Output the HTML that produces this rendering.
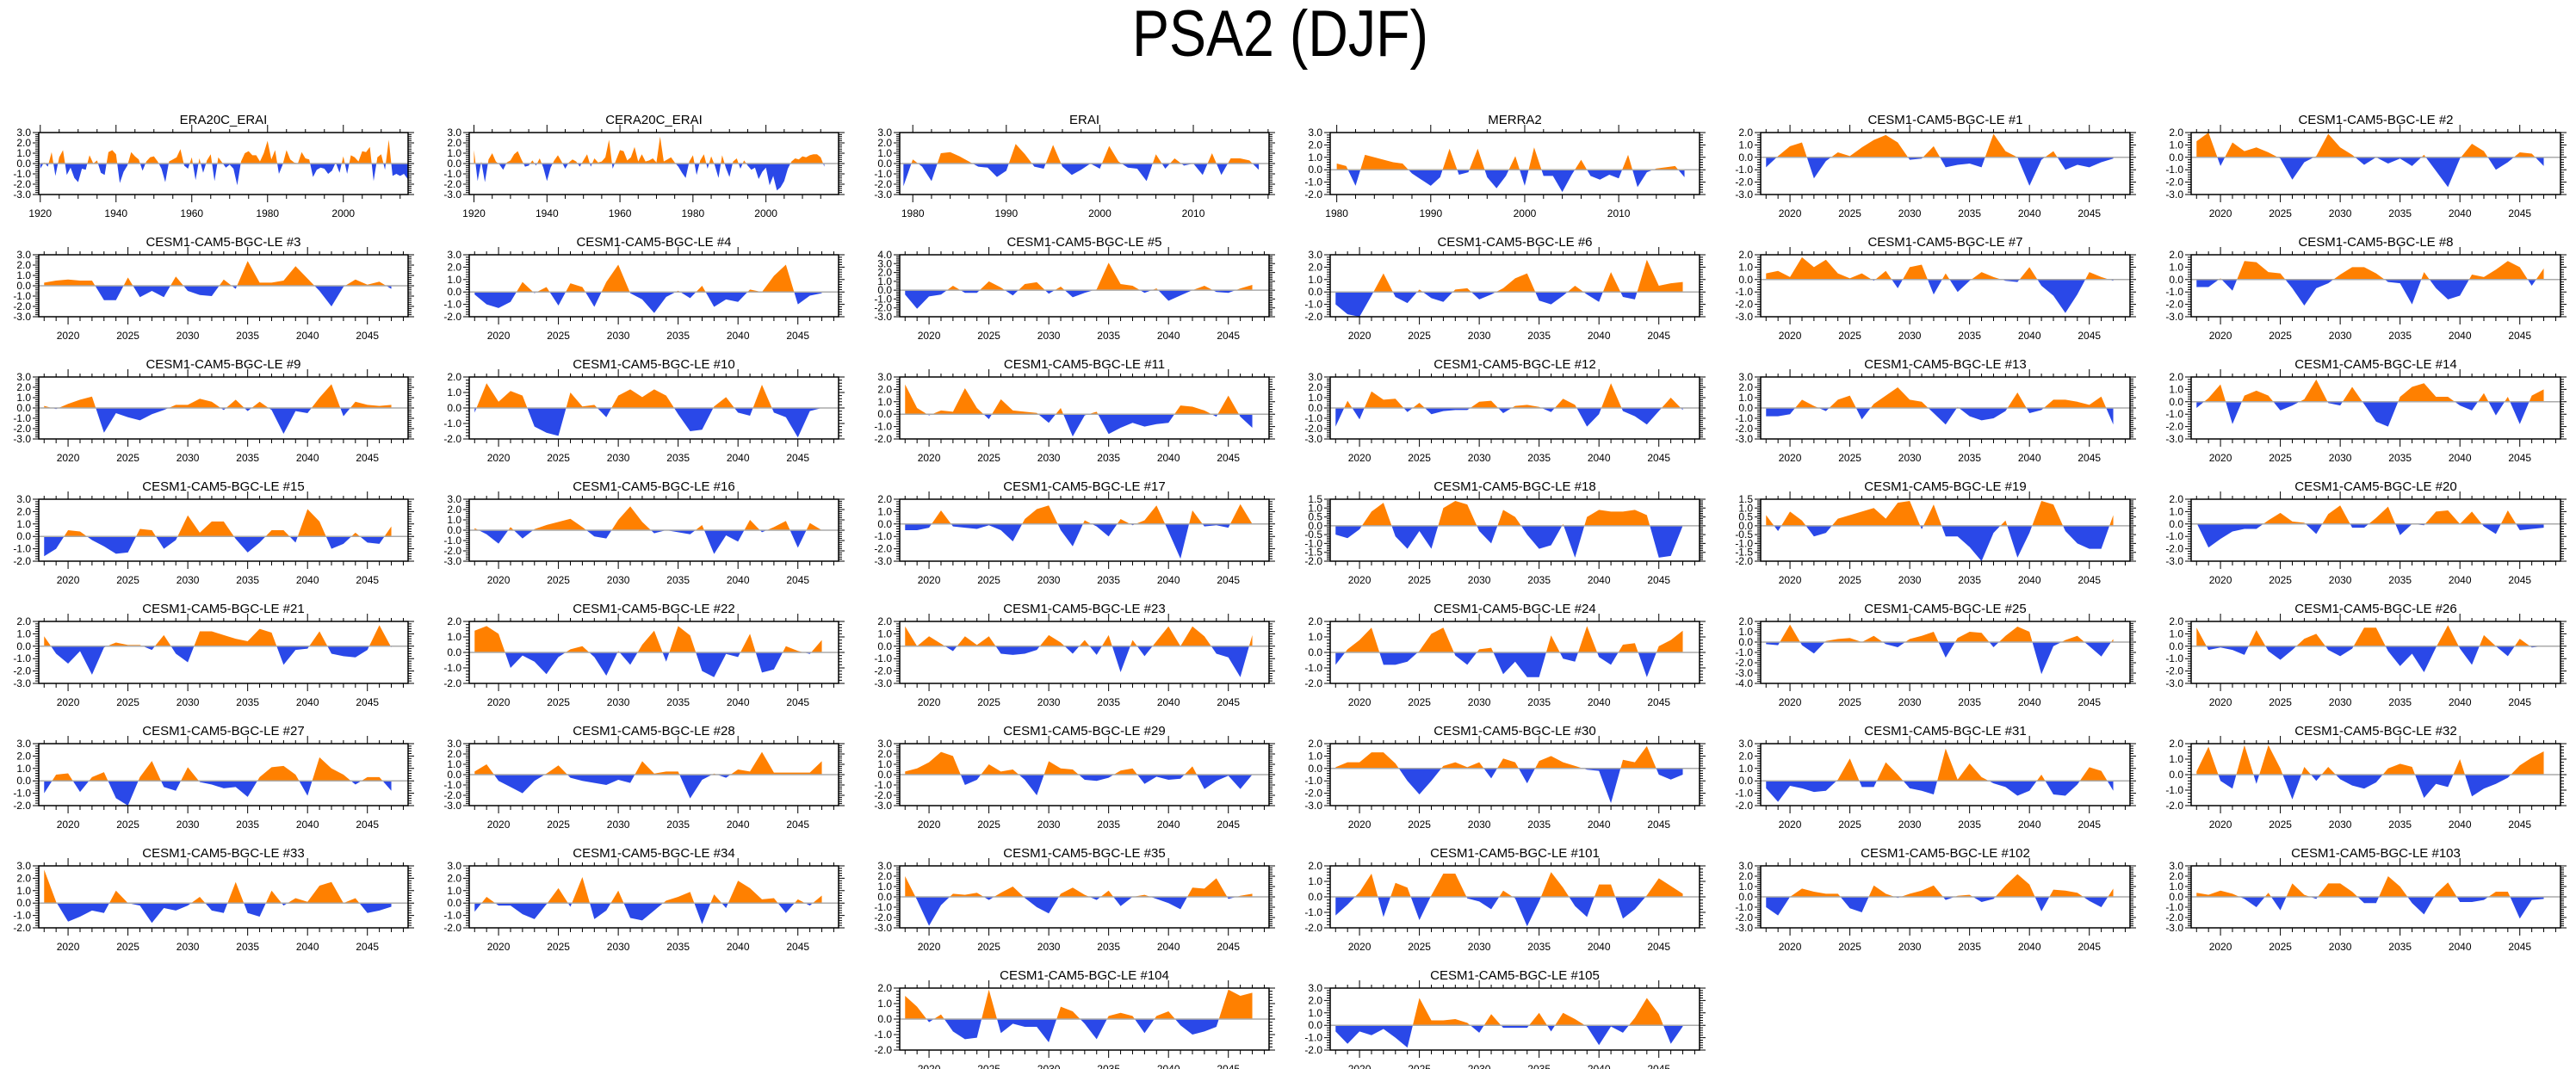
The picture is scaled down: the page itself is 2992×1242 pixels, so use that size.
<!DOCTYPE html>
<html><head><meta charset="utf-8"><title>PSA2 (DJF)</title>
<style>html,body{margin:0;padding:0;background:#fff;}svg{display:block;font-family:"Liberation Sans",Arial,sans-serif;}</style>
</head><body>
<svg id="chart" width="2992" height="1242" viewBox="0 0 2992 1242" xmlns="http://www.w3.org/2000/svg">
<rect x="0" y="0" width="2992" height="1242" fill="#fff"/>
<text x="1487" y="65" text-anchor="middle" font-size="76" textLength="344" lengthAdjust="spacingAndGlyphs" fill="#000">PSA2 (DJF)</text>
<g id="panels"></g>
</svg>
<script>
const v_era20c = [-0.5,0.1,-0.3,1.1,-1.2,0.6,1.3,-1.1,-0.4,-1.4,-1.8,-0.5,-0.6,0.8,0.0,0.3,-0.9,-1.1,1.1,1.3,0.9,-1.9,-0.8,-0.2,1.1,0.7,0.4,-0.7,0.2,0.6,0.7,0.2,-0.5,-1.8,0.2,0.4,0.6,1.4,-0.2,-0.5,0.6,-1.6,0.5,-0.9,0.3,0.9,-1.7,0.6,0.1,-0.4,-0.1,-0.5,-2.1,0.2,1.0,1.2,0.8,0.8,0.2,1.0,2.2,0.4,1.3,-1.0,-0.1,1.3,0.4,0.1,0.0,1.1,0.5,0.4,-1.3,-0.6,-0.4,-0.5,-1.0,-0.7,0.1,-0.9,0.7,-1.0,0.8,0.6,0.2,1.2,1.1,1.6,-1.7,0.6,0.9,-0.6,2.3,-1.2,-1.0,-1.2,-1.0,-1.5];
const v_cera20c = [1.3,-1.7,0.2,-1.8,0.4,1.0,0.2,-0.1,-0.6,0.1,0.3,0.9,1.2,0.4,-0.3,-0.2,0.3,-0.2,0.5,-0.4,-1.7,-0.4,0.3,0.8,0.2,-0.5,0.1,0.4,0.2,-0.3,0.3,0.9,-0.3,0.5,0.1,0.2,0.6,2.3,-0.5,0.4,1.3,1.2,0.3,0.6,1.6,0.2,0.9,0.2,0.3,0.5,0.1,2.6,0.2,0.4,0.6,0.1,-0.3,-0.9,-1.4,0.2,0.8,-1.1,0.3,0.9,-0.5,0.7,-0.2,-1.4,0.8,-0.4,-1.3,0.2,0.5,-0.5,0.3,-0.2,-0.6,-0.4,-1.5,-0.8,-0.4,-2.1,-1.2,-2.6,-2.3,-1.7,-0.5,0.2,0.5,0.4,0.7,0.6,0.8,0.9,0.9,0.6,-0.3];
const v_erai = [-2.2,0.4,-0.3,-1.7,1.0,1.1,0.7,0.2,-0.3,-0.4,-1.3,-0.7,1.9,0.9,-0.3,-0.5,1.8,-0.3,-1.1,-0.6,0.0,-0.5,1.7,0.2,-0.4,-0.5,-1.7,0.9,-0.5,0.5,-0.2,0.0,-1.1,1.0,-1.1,0.5,0.5,0.3,-0.6];
const v_merra2 = [0.5,0.3,-1.3,1.2,1.0,0.8,0.6,0.5,-0.3,-0.8,-1.3,-0.6,1.7,-0.4,-0.2,1.7,-0.6,-1.5,-0.5,1.1,-1.3,1.8,-0.5,-0.5,-1.8,-0.4,0.8,-0.5,-0.8,-0.4,-0.7,1.2,-1.4,-0.2,0.1,0.2,0.3,-0.6];
const v_m1 = [-0.8,0.1,0.9,1.2,-1.7,-0.3,0.4,0.1,0.8,1.4,1.8,1.2,-0.2,-0.1,0.9,-0.8,-0.6,-0.5,-0.8,1.9,0.5,0.0,-2.3,-0.2,0.5,-1.0,-0.6,-0.8,-0.4,-0.1];
const v_m2 = [1.3,2.0,-0.7,1.2,0.5,0.8,0.4,-0.1,-1.8,-0.4,0.1,1.9,0.8,0.2,-0.6,0.0,-0.5,-0.1,-0.7,0.2,-1.1,-2.4,-0.1,1.1,0.5,-1.0,-0.4,0.4,0.3,-0.7];
const v_m3 = [0.3,0.5,0.6,0.5,0.5,-1.4,-1.4,0.8,-1.1,-0.5,-1.1,0.9,-0.5,-0.9,-1.0,0.6,-0.3,2.4,0.3,0.3,0.5,1.9,0.7,-0.5,-2.0,-0.1,0.6,0.1,0.4,-0.3];
const v_m4 = [-0.2,-1.0,-1.3,-0.8,0.8,-0.1,0.4,-1.1,0.7,0.4,-1.2,0.8,2.2,-0.1,-0.6,-1.7,-0.4,0.1,-0.5,0.5,-1.2,-0.6,-0.8,0.2,0.0,1.3,2.2,-1.0,-0.3,-0.1];
const v_m5 = [-0.5,-2.1,-0.7,-0.5,0.5,-0.3,-0.3,1.0,0.3,-0.6,0.7,0.9,-0.4,0.4,-0.8,-0.3,0.1,3.1,0.7,0.5,-0.3,0.2,-1.2,-0.6,0.0,0.5,-0.2,-0.3,0.2,0.6];
const v_m6 = [-1.0,-1.8,-2.0,-0.3,1.5,-0.4,-0.9,0.2,-0.5,-0.8,0.2,0.3,-0.6,-0.2,0.3,1.1,1.5,-0.7,-1.0,-0.3,0.5,-0.2,-0.8,1.6,-0.4,-0.6,2.6,0.5,0.7,0.8];
const v_m7 = [0.5,0.7,0.2,1.8,1.0,1.6,0.5,0.1,0.5,-0.1,0.7,-0.7,1.0,1.2,-1.2,0.5,-1.0,-0.1,0.6,0.2,-0.1,-0.2,1.0,-0.5,-1.3,-2.7,-1.2,0.6,0.2,-0.1];
const v_m8 = [-0.6,-0.6,0.1,-0.9,1.5,1.4,0.6,0.5,-0.7,-2.1,-0.7,-0.3,0.4,1.0,1.0,0.5,-0.2,-0.3,-2.0,0.6,-0.7,-1.6,-1.3,0.4,0.2,0.8,1.5,1.0,-0.5,0.9];
const v_m9 = [0.2,-0.1,0.4,0.8,1.1,-2.4,-0.5,-0.9,-1.2,-0.6,-0.2,0.3,0.3,0.9,0.6,-0.2,0.8,-0.3,0.6,-0.2,-2.5,-0.3,-0.5,1.0,2.3,-0.8,0.6,0.3,0.2,0.3];
const v_m10 = [-0.3,1.6,0.4,1.1,0.8,-1.2,-1.6,-1.8,1.0,0.1,0.2,-0.6,0.8,1.2,0.7,1.2,0.8,-0.4,-1.5,-1.4,0.1,0.7,-0.3,-0.5,1.5,-0.3,-0.6,-1.9,-0.2,0.0];
const v_m11 = [2.4,0.5,-0.1,0.3,0.2,2.1,0.5,-0.4,1.2,0.3,0.2,0.1,-0.7,0.5,-1.8,-0.1,0.2,-1.6,-1.1,-0.7,-1.0,-0.8,-0.7,0.7,0.6,0.3,-0.2,1.5,-0.2,-1.1];
const v_m12 = [-1.8,0.7,-1.1,1.6,0.8,0.9,-0.4,0.5,-0.6,-0.3,-0.2,-0.2,0.6,0.7,-0.5,0.2,0.3,0.1,-0.4,0.9,0.3,-1.8,-0.6,2.4,-0.3,-0.8,-1.6,-0.3,1.0,-0.2];
const v_m13 = [-0.8,-0.8,-0.6,0.8,0.2,-0.3,0.8,1.2,-1.1,0.4,1.2,2.0,0.8,0.6,-0.5,-1.6,0.1,-0.8,-1.2,-1.0,-0.3,1.5,-0.5,-0.2,0.8,0.8,0.6,0.3,1.1,-1.6];
const v_m14 = [-0.5,0.3,1.4,-1.8,0.5,0.9,0.5,-0.7,-0.3,0.2,1.8,-0.1,-0.3,1.2,-0.2,-1.6,-2.0,0.4,1.2,1.5,0.4,0.4,-0.3,-0.7,0.7,-1.1,0.4,-1.8,0.5,1.0];
const v_m15 = [-1.6,-1.0,0.5,0.4,-0.3,-0.8,-1.4,-1.3,0.6,0.5,-1.0,-0.3,1.7,0.3,1.2,1.2,-0.2,-1.3,-0.5,0.5,0.5,-0.5,2.2,1.2,-1.0,-0.6,0.3,-0.5,-0.6,0.8];
const v_m16 = [0.2,-0.4,-1.3,0.3,-0.8,0.1,0.5,0.8,1.1,0.3,-0.6,-0.8,1.0,2.3,0.8,-0.3,0.0,-0.2,-0.4,0.5,-2.3,-0.5,-1.1,1.0,-0.2,0.3,0.9,-1.7,0.7,0.0];
const v_m17 = [-0.5,-0.5,-0.3,1.1,-0.2,-0.3,-0.4,-0.1,-0.5,-1.4,0.4,1.2,1.5,-0.5,-1.8,0.3,-0.2,-1.0,0.4,-0.1,0.3,1.5,-0.6,-2.8,1.1,-0.2,-0.1,-0.3,1.6,0.0];
const v_m18 = [-0.5,-0.7,-0.2,0.8,1.3,-0.6,-1.3,-0.3,-1.3,1.0,1.4,1.2,-0.3,-1.0,0.9,0.5,-0.5,-1.3,-1.1,0.1,-1.8,0.5,0.9,0.8,0.8,0.9,0.6,-1.8,-1.7,0.0];
const v_m19 = [0.6,-0.3,0.8,0.3,-0.6,-0.4,0.4,0.6,0.8,1.0,0.4,1.3,1.4,-0.2,1.2,-0.6,-0.6,-1.2,-2.0,-0.4,0.3,-1.8,-0.4,1.4,1.2,-0.3,-1.0,-1.3,-1.3,0.6];
const v_m20 = [0.1,-1.9,-1.2,-0.6,-0.4,-0.4,0.3,0.9,0.2,0.1,-0.8,0.8,1.5,-0.3,-0.3,0.5,1.4,-0.9,0.0,-0.1,1.0,1.1,0.0,1.0,-0.2,-0.8,1.1,-0.5,-0.4,-0.3];
const v_m21 = [0.8,-0.6,-1.4,-0.4,-2.3,-0.1,0.3,0.1,0.1,-0.3,0.9,-0.6,-1.3,1.2,1.2,0.9,0.6,0.4,1.4,1.1,-1.5,-0.3,-0.2,1.2,-0.6,-0.8,-0.9,-0.3,1.7,-0.1];
const v_m22 = [1.4,1.7,1.2,-1.0,-0.2,-0.6,-1.4,-0.3,0.2,0.4,-0.3,-1.5,0.1,-0.8,0.5,1.4,-0.6,1.7,1.1,-1.2,-1.6,-0.1,-0.3,1.2,-1.3,-1.1,0.4,0.1,-0.1,0.8];
const v_m23 = [1.6,0.0,0.8,0.2,-0.4,0.8,0.1,0.8,-0.6,-0.7,-0.6,-0.3,0.9,0.3,-0.6,0.5,-0.7,0.9,-2.1,0.5,-0.8,0.4,1.6,0.0,1.6,0.8,-0.6,-0.9,-2.5,0.9];
const v_m24 = [-0.8,0.2,0.8,1.6,-0.8,-0.8,-0.6,0.1,1.2,1.6,-0.2,-0.8,0.2,0.3,-1.4,-0.6,-1.6,-1.6,1.1,-0.4,-0.6,1.7,-0.3,-0.8,0.5,0.6,-1.6,0.4,0.8,1.4];
const v_m25 = [-0.2,-0.3,1.7,-0.3,-1.1,0.1,0.3,0.4,0.0,0.6,-0.2,-0.5,0.3,0.6,1.0,-1.5,0.4,1.0,0.9,-0.5,0.6,1.5,1.0,-3.1,-0.4,0.2,0.6,-0.4,-1.4,0.3];
const v_m26 = [1.5,-0.3,-0.1,-0.3,-0.7,1.3,-0.4,-1.1,-0.3,0.6,1.0,-0.3,-0.8,-0.2,1.5,1.5,-0.4,-1.6,-0.6,-2.1,-0.1,1.7,-0.2,-1.5,0.9,0.0,-0.8,0.6,-0.1,0.0];
const v_m27 = [-1.0,0.5,0.6,-0.9,0.3,0.7,-1.4,-2.0,0.3,1.6,-0.5,-0.8,1.1,-0.1,-0.3,-0.6,-0.5,-1.3,0.3,1.1,1.2,0.5,-1.2,1.9,1.0,0.5,-0.3,0.3,0.3,-0.8];
const v_m28 = [0.3,1.0,-0.6,-1.2,-1.8,-0.6,0.1,0.9,-0.3,-0.6,-0.8,-1.0,-0.5,-0.8,1.3,0.1,0.3,0.3,-2.3,-0.5,0.1,-0.3,0.5,0.3,2.2,0.2,0.2,0.2,0.2,1.3];
const v_m29 = [0.3,0.6,1.2,2.2,1.8,-1.0,-0.5,1.0,0.3,0.5,-0.5,-2.0,1.3,0.6,0.5,-0.5,-0.6,-0.3,0.4,0.6,-0.9,-0.2,-0.5,-0.4,0.8,-1.4,-0.6,-0.1,-1.4,0.0];
const v_m30 = [0.1,0.5,0.5,1.3,1.3,0.4,-1.0,-2.1,-1.0,0.2,0.5,0.1,0.5,-0.8,0.8,0.5,-1.2,0.6,1.0,0.5,0.2,-0.1,-0.2,-2.8,0.7,0.5,1.8,-0.5,-0.9,-0.5];
const v_m31 = [-0.6,-1.7,-0.4,-0.6,-0.9,-0.8,0.1,1.8,-0.5,-0.5,1.5,0.5,-0.6,-0.8,-1.1,2.6,0.1,1.4,0.3,-0.2,-0.5,-1.2,-0.8,0.5,-1.1,-1.2,-0.3,1.1,0.8,-0.8];
const v_m32 = [0.2,1.8,-0.4,-0.9,1.9,-0.6,1.9,0.4,-1.6,0.5,-0.4,0.5,-0.3,-0.7,-0.9,-0.5,0.4,0.7,0.5,-1.5,-0.6,-0.8,1.0,-1.4,-0.9,-0.6,-0.2,0.6,1.1,1.5];
const v_m33 = [2.7,0.1,-1.5,-1.1,-0.6,-0.8,1.0,0.0,-0.2,-1.6,-0.4,-0.6,-0.2,0.5,-0.6,-0.8,1.7,-0.8,-1.1,1.0,-0.2,0.4,0.1,1.4,1.7,0.0,0.4,-0.8,-0.6,-0.3];
const v_m34 = [-0.7,0.5,-0.2,-0.2,-0.9,-1.3,-0.1,1.2,-0.3,2.1,-1.3,-0.6,1.0,-1.2,-1.4,-0.6,0.2,0.5,0.9,-1.7,0.7,-0.4,1.8,1.2,0.3,0.4,-0.8,0.3,-0.2,0.6];
const v_m35 = [2.0,-0.3,-2.8,-0.8,0.3,0.2,0.4,-0.3,0.4,1.0,-0.1,-1.0,-1.6,0.3,0.9,0.2,-0.3,0.6,-0.9,0.0,0.2,-0.2,-0.6,-1.2,0.9,0.8,1.8,-0.2,0.1,0.3];
const v_m101 = [-1.2,-0.5,0.3,1.5,-1.3,0.9,0.6,-1.5,0.1,1.5,1.5,-0.1,-0.3,-0.8,0.4,-0.1,-1.9,-0.3,1.6,0.6,-0.6,-1.3,0.8,0.8,-1.4,-0.8,0.1,1.2,0.7,0.2];
const v_m102 = [-1.0,-1.8,0.0,0.8,0.5,0.3,0.3,-1.1,-1.5,1.1,0.3,-0.1,0.3,0.6,1.1,-0.3,0.1,0.2,-0.5,-0.2,1.1,2.2,1.2,-1.4,0.7,0.6,0.4,-0.4,-1.0,0.8];
const v_m103 = [0.4,0.2,0.6,0.3,-0.2,-1.0,0.4,-1.3,1.3,0.2,-0.2,1.3,1.3,0.5,-0.6,-0.6,2.0,1.0,-0.6,-1.7,0.3,1.4,-0.5,-0.5,-0.3,0.5,0.5,-2.1,-0.3,-0.2];
const v_m104 = [1.5,0.8,-0.2,0.3,-0.8,-1.3,-1.2,1.9,-0.9,-0.3,-0.5,-0.5,-1.5,0.8,0.5,-0.3,-1.3,0.2,0.4,0.2,-0.9,0.2,0.5,-0.4,-1.0,-0.8,-0.5,1.9,1.5,1.7];
const v_m105 = [-0.5,-1.5,-0.5,-0.8,-0.3,-1.0,-1.8,2.2,0.4,0.4,0.5,0.2,-0.6,0.9,-0.2,-0.2,-0.2,1.0,-0.5,1.0,0.5,-0.1,-1.6,-0.1,-0.6,0.6,2.2,0.9,-1.5,-0.1];

const panelTitles = ["ERA20C_ERAI","CERA20C_ERAI","ERAI","MERRA2","CESM1-CAM5-BGC-LE #1","CESM1-CAM5-BGC-LE #2","CESM1-CAM5-BGC-LE #3","CESM1-CAM5-BGC-LE #4","CESM1-CAM5-BGC-LE #5","CESM1-CAM5-BGC-LE #6","CESM1-CAM5-BGC-LE #7","CESM1-CAM5-BGC-LE #8","CESM1-CAM5-BGC-LE #9","CESM1-CAM5-BGC-LE #10","CESM1-CAM5-BGC-LE #11","CESM1-CAM5-BGC-LE #12","CESM1-CAM5-BGC-LE #13","CESM1-CAM5-BGC-LE #14","CESM1-CAM5-BGC-LE #15","CESM1-CAM5-BGC-LE #16","CESM1-CAM5-BGC-LE #17","CESM1-CAM5-BGC-LE #18","CESM1-CAM5-BGC-LE #19","CESM1-CAM5-BGC-LE #20","CESM1-CAM5-BGC-LE #21","CESM1-CAM5-BGC-LE #22","CESM1-CAM5-BGC-LE #23","CESM1-CAM5-BGC-LE #24","CESM1-CAM5-BGC-LE #25","CESM1-CAM5-BGC-LE #26","CESM1-CAM5-BGC-LE #27","CESM1-CAM5-BGC-LE #28","CESM1-CAM5-BGC-LE #29","CESM1-CAM5-BGC-LE #30","CESM1-CAM5-BGC-LE #31","CESM1-CAM5-BGC-LE #32","CESM1-CAM5-BGC-LE #33","CESM1-CAM5-BGC-LE #34","CESM1-CAM5-BGC-LE #35","CESM1-CAM5-BGC-LE #101","CESM1-CAM5-BGC-LE #102","CESM1-CAM5-BGC-LE #103","CESM1-CAM5-BGC-LE #104","CESM1-CAM5-BGC-LE #105"];
const panelValues = [v_era20c,v_cera20c,v_erai,v_merra2,v_m1,v_m2,v_m3,v_m4,v_m5,v_m6,v_m7,v_m8,v_m9,v_m10,v_m11,v_m12,v_m13,v_m14,v_m15,v_m16,v_m17,v_m18,v_m19,v_m20,v_m21,v_m22,v_m23,v_m24,v_m25,v_m26,v_m27,v_m28,v_m29,v_m30,v_m31,v_m32,v_m33,v_m34,v_m35,v_m101,v_m102,v_m103,v_m104,v_m105];
const startYears = [1920,1920,1979,1980].concat(new Array(40).fill(2018));
const yMaxes = [3,3,3,3,2,2, 3,3,4,3,2,2, 3,2,3,3,3,2, 3,3,2,1.5,1.5,2, 2,2,2,2,2,2, 3,3,3,2,3,2, 3,3,3,2,3,3, 2,3];
const yMins = [-3,-3,-3,-2,-3,-3, -3,-2,-3,-2,-3,-3, -3,-2,-2,-3,-3,-3, -2,-3,-3,-2,-2,-3, -3,-2,-3,-2,-4,-3, -2,-3,-3,-3,-2,-2, -2,-2,-3,-2,-3,-3, -2,-2];

const NS = "http://www.w3.org/2000/svg";
const root = document.getElementById('panels');
function mk(tag, attrs, parent){const e=document.createElementNS(NS,tag);for(const k in attrs)e.setAttribute(k,attrs[k]);parent.appendChild(e);return e;}

const PW=429, PH=72;
panelTitles.forEach((title,i)=>{
  let col, row;
  if(i<42){col=i%6;row=Math.floor(i/6);} else {col=i-40;row=7;}
  const L=45+500*col, T=154+142*row, R=L+PW, B=T+PH;
  const vals=panelValues[i], y0=startYears[i];
  let xr;
  if(i===0) xr=[1919.6,2017.1];
  else if(i===1) xr=[1918.7,2019.9];
  else if(i===2) xr=[1978.6,2018.1];
  else if(i===3) xr=[1979.3,2018.6];
  else xr=[2017.55,2048.4];
  const ymax=yMaxes[i], ymin=yMins[i];
  const xs=v=>L+(v-xr[0])/(xr[1]-xr[0])*PW;
  const ys=v=>T+(ymax-v)/(ymax-ymin)*PH;
  const g=mk('g',{},root);
  
  
  const t=mk('text',{x:(L+R)/2,y:T-10,'text-anchor':'middle','font-size':15,fill:'#000'},g);
  t.textContent=title;
  
  
  const z=ys(0);
  let d='M'+xs(y0).toFixed(2)+','+z.toFixed(2);
  vals.forEach((v,k)=>{d+=' L'+xs(y0+k).toFixed(2)+','+ys(v).toFixed(2);});
  d+=' L'+xs(y0+vals.length-1).toFixed(2)+','+z.toFixed(2)+' Z';
  const cid='c'+i;
  const defs=mk('defs',{},g);
  const cpA=mk('clipPath',{id:cid+'a'},defs); mk('rect',{x:L,y:T,width:PW,height:z-T},cpA);
  const cpB=mk('clipPath',{id:cid+'b'},defs); mk('rect',{x:L,y:z,width:PW,height:B-z},cpB);
  const pa=mk('path',{d:d,fill:'#ff8000','clip-path':'url(#'+cid+'a)'},g);
  
  
  const pb=mk('path',{d:d,fill:'#2a48e8','clip-path':'url(#'+cid+'b)'},g);
  
  
  const zl=mk('line',{x1:L,x2:R,y1:z,y2:z,stroke:'#aaa','stroke-width':1.5},g);
  
  
  const frame=mk('rect',{x:L,y:T,width:PW,height:PH,fill:'none',stroke:'#000','stroke-width':1.5},g);
  
  
  let tk='';
  let maj,mnr;
  if(i<2){maj=20;mnr=5;} else if(i<4){maj=10;mnr=2;} else {maj=5;mnr=1;}
  const xa=mk('g',{},g);
  
  
  for(let yr=Math.ceil(xr[0]);yr<=xr[1];yr++){
    if(yr%mnr!==0) continue;
    const x=xs(yr).toFixed(2);
    const isMaj=yr%maj===0;
    tk+='M'+x+','+T+' v'+(isMaj?-9:-4)+' M'+x+','+B+' v'+(isMaj?9:5)+' ';
    if(isMaj){
      const lb=mk('text',{x:x,y:B+26,'text-anchor':'middle','font-size':12,fill:'#000'},xa);
      lb.textContent=String(yr);
      
      
    }
  }
  const ya=mk('g',{},g);
  
  
  const ystep=(ymax===1.5)?0.5:1.0, ymin10=Math.round(ymin*10), ymax10=Math.round(ymax*10), mstep=ystep*2;
  for(let q=ymin10;q<=ymax10;q+=mstep){
    const v=q/10, y=ys(v).toFixed(2);
    const isMaj=Math.abs(Math.round(q/(ystep*10))*(ystep*10)-q)<1e-6;
    tk+='M'+L+','+y+' h'+(isMaj?-7:-4)+' M'+R+','+y+' h'+(isMaj?7:4)+' ';
    if(isMaj){
      const lb=mk('text',{x:L-9,y:(+y+4).toFixed(2),'text-anchor':'end','font-size':12,fill:'#000'},ya);
      lb.textContent=v.toFixed(1);
      
      
    }
  }
  const tp=mk('path',{d:tk,stroke:'#000','stroke-width':1,fill:'none'},g);
  
  
});
</script>
</body></html>
